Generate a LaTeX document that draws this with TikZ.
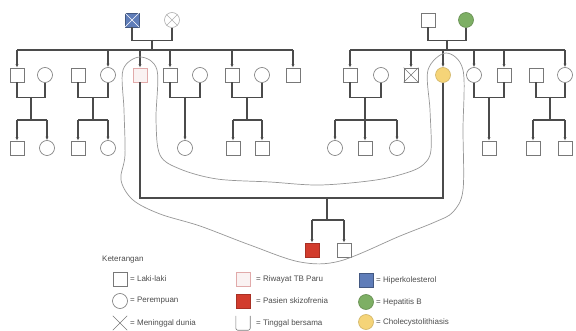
\documentclass[tikz,border=0pt]{standalone}
\usepackage{fontspec}
\setmainfont{Liberation Sans}
\usetikzlibrary{arrows.meta}
\definecolor{lc}{RGB}{75,75,75}
\definecolor{sc}{RGB}{120,120,120}
\definecolor{bluef}{RGB}{95,125,185}
\definecolor{greenf}{RGB}{125,175,100}
\definecolor{yellowf}{RGB}{245,212,120}
\definecolor{redf}{RGB}{210,60,45}
\definecolor{pinkd}{RGB}{225,170,170}
\definecolor{loopc}{RGB}{150,150,150}
\begin{document}
\begin{tikzpicture}[x=1pt,y=-1pt,
 male/.style={draw=sc, line width=0.6pt, rectangle, minimum size=14pt, inner sep=0pt},
 female/.style={draw=sc, line width=0.6pt, circle, minimum size=15pt, inner sep=0pt},
 conn/.style={draw=lc, line width=1.1pt},
 kid/.style={conn, -{Latex[length=3.5pt,width=3pt]}},
 lg/.style={font=\fontsize{8}{9}\selectfont, text=black!70, anchor=west, inner sep=0pt},
 dead/.style={draw=sc, line width=0.6pt},
 blank/.style={minimum size=14pt, inner sep=0pt}]
\useasboundingbox (0,0) rectangle (576,331);

% ---------- Generation I ----------
\node[male, fill=bluef, draw=bluef!70!black] (gf1) at (132,20) {};
\node[female, draw=sc!60] (gm1) at (172,20) {};
\draw[dead, draw=white] (gf1.north west) -- (gf1.south east) (gf1.north east) -- (gf1.south west);
\draw[dead, draw=sc!60] (gm1.north west) -- (gm1.south east) (gm1.north east) -- (gm1.south west);
\node[male] (gf2) at (428,20) {};
\node[female, fill=greenf, draw=greenf!80!black] (gm2) at (466,20) {};

\draw[conn] (gf1.south) -- ++(0,13) -| (gm1.south);
\coordinate (u0) at (152,40); \coordinate (s0) at (152,50);
\draw[conn] (u0) -- (s0);
\draw[conn] (gf2.south) -- ++(0,13) -| (gm2.south);
\coordinate (u0r) at (447,40); \coordinate (s0r) at (447,50);
\draw[conn] (u0r) -- (s0r);

% ---------- Generation II ----------
\node[male] (a1) at (17,75) {};
\node[female] (a1w) at (45,75) {};
\node[male] (a2) at (78,75) {};
\node[female] (a2c) at (108,75) {};
\node[male, draw=pinkd, fill=pinkd!15] (p) at (140,75) {};
\node[male] (a3) at (170,75) {};
\node[female] (a3w) at (200,75) {};
\node[male] (a4) at (232,75) {};
\node[female] (a4w) at (262,75) {};
\node[male] (a5) at (293,75) {};

\node[male] (b1) at (350,75) {};
\node[female] (b1w) at (381,75) {};
\node[male] (b2) at (411,75) {};
\draw[dead] (b2.north west) -- (b2.south east) (b2.north east) -- (b2.south west);
\node[female, fill=yellowf, draw=yellowf!85!black] (yc) at (443,75) {};
\node[female] (b3) at (474,75) {};
\node[male] (b4) at (504,75) {};
\node[male] (b5h) at (536,75) {};
\node[female] (b5) at (565,75) {};

\draw[conn] (a1.north |- s0) -- (a5.north |- s0);
\foreach \n in {a1,a2c,p,a3,a4,a5} \draw[kid] (\n.north |- s0) -- (\n.north);
\draw[conn] (b1.north |- s0r) -- (b5.north |- s0r);
\foreach \n in {b1,b2,yc,b3,b4,b5} \draw[kid] (\n.north |- s0r) -- (\n.north);

% couples of generation II
\draw[conn] (a1.south) -- ++(0,15) -| (a1w.south);
\draw[conn] (a2.south) -- ++(0,15) -| (a2c.south);
\draw[conn] (a3.south) -- ++(0,15) -| (a3w.south);
\draw[conn] (a4.south) -- ++(0,15) -| (a4w.south);
\draw[conn] (b1.south) -- ++(0,15) -| (b1w.south);
\draw[conn] (b3.south) -- ++(0,15) -| (b4.south);
\draw[conn] (b5h.south) -- ++(0,15) -| (b5.south);

% ---------- Generation III ----------
\node[male] (c11) at (17,148) {};
\node[female] (c12) at (47,148) {};
\node[male] (c21) at (78,148) {};
\node[female] (c22) at (108,148) {};
\node[female] (c31) at (185,148) {};
\node[male] (c41) at (233,148) {};
\node[male] (c42) at (262,148) {};
\node[female] (d11) at (335,148) {};
\node[male] (d12) at (365,148) {};
\node[female] (d13) at (397,148) {};
\node[male] (d21) at (489,148) {};
\node[male] (d31) at (533,148) {};
\node[male] (d32) at (565,148) {};

\coordinate (u1) at (31,97);  \coordinate (s1) at (31,120);
\coordinate (u2) at (93,97);  \coordinate (s2) at (93,120);
\coordinate (u3) at (185,97);
\coordinate (u4) at (247,97); \coordinate (s4) at (247,120);
\coordinate (v1) at (365,97); \coordinate (t1) at (365,120);
\coordinate (v2) at (489,97);
\coordinate (v3) at (550,97); \coordinate (t3) at (550,120);

\draw[conn] (u1) -- (s1); \draw[conn] (c11.north |- s1) -- (c12.north |- s1);
\foreach \n in {c11,c12} \draw[kid] (\n.north |- s1) -- (\n.north);
\draw[conn] (u2) -- (s2); \draw[conn] (c21.north |- s2) -- (c22.north |- s2);
\foreach \n in {c21,c22} \draw[kid] (\n.north |- s2) -- (\n.north);
\draw[kid] (u3) -- (c31.north);
\draw[conn] (u4) -- (s4); \draw[conn] (c41.north |- s4) -- (c42.north |- s4);
\foreach \n in {c41,c42} \draw[kid] (\n.north |- s4) -- (\n.north);
\draw[conn] (v1) -- (t1); \draw[conn] (d11.north |- t1) -- (d13.north |- t1);
\foreach \n in {d11,d12,d13} \draw[kid] (\n.north |- t1) -- (\n.north);
\draw[kid] (v2) -- (d21.north);
\draw[conn] (v3) -- (t3); \draw[conn] (d31.north |- t3) -- (d32.north |- t3);
\foreach \n in {d31,d32} \draw[kid] (\n.north |- t3) -- (\n.north);

% ---------- Generation IV ----------
\node[male, fill=redf, draw=redf!80!black] (r1) at (312,250) {};
\node[male] (r2) at (344,250) {};
\coordinate (m4) at (327,198); \coordinate (s5) at (327,220);
\draw[conn] (p.south) |- (m4) -| (yc.south);
\draw[conn] (m4) -- (s5);
\draw[conn] (r1.north |- s5) -- (r2.north |- s5);
\foreach \n in {r1,r2} \draw[kid] (\n.north |- s5) -- (\n.north);

% ---------- household loop ----------
\draw[loopc, line width=0.7pt] plot[smooth cycle, tension=0.55] coordinates {
 (157,70) (140,57) (123,70) (124,110) (125,155) (121,180) (133,200) (160,214)
 (200,226) (250,245) (300,262) (340,261) (400,236) (435,222) (453,212) (463,190)
 (463,130) (463,70) (446,53) (428,70) (430,110) (431,150) (424,164) (409,172)
 (376,180) (320,185) (270,182) (217,179) (180,169) (160,155) (156,120) };

% ---------- legend ----------
\node[lg] (kt) at (102,260) {Keterangan};
\node[male] (l1) at (120,279) {};
\node[lg] (t1) at (130,279) {= Laki-laki};
\node[female] (l2) at (120,301) {};
\node[lg] (t2) at (130,301) {= Perempuan};
\node[blank] (l3) at (120,323) {};
\draw[dead] (l3.north west) -- (l3.south east) (l3.north east) -- (l3.south west);
\node[lg] (t3) at (130,323) {= Meninggal dunia};

\node[male, draw=pinkd, fill=pinkd!15] (l4) at (243,279) {};
\node[lg] (t4) at (256,279) {= Riwayat TB Paru};
\node[male, fill=redf, draw=redf!80!black] (l5) at (243,301) {};
\node[lg] (t5) at (256,301) {= Pasien skizofrenia};
\node[blank] (l6) at (243,323) {};
\draw[dead, rounded corners=2pt] (l6.north west) -- (l6.south west) -- (l6.south east) -- (l6.north east);
\node[lg] (t6) at (256,323) {= Tinggal bersama};

\node[male, fill=bluef, draw=bluef!70!black] (l7) at (366,280) {};
\node[lg] (t7) at (376,280) {= Hiperkolesterol};
\node[female, fill=greenf, draw=greenf!80!black] (l8) at (366,302) {};
\node[lg] (t8) at (376,302) {= Hepatitis B};
\node[female, fill=yellowf, draw=yellowf!85!black] (l9) at (366,322) {};
\node[lg] (t9) at (376,322) {= Cholecystolithiasis};
\end{tikzpicture}
\end{document}
